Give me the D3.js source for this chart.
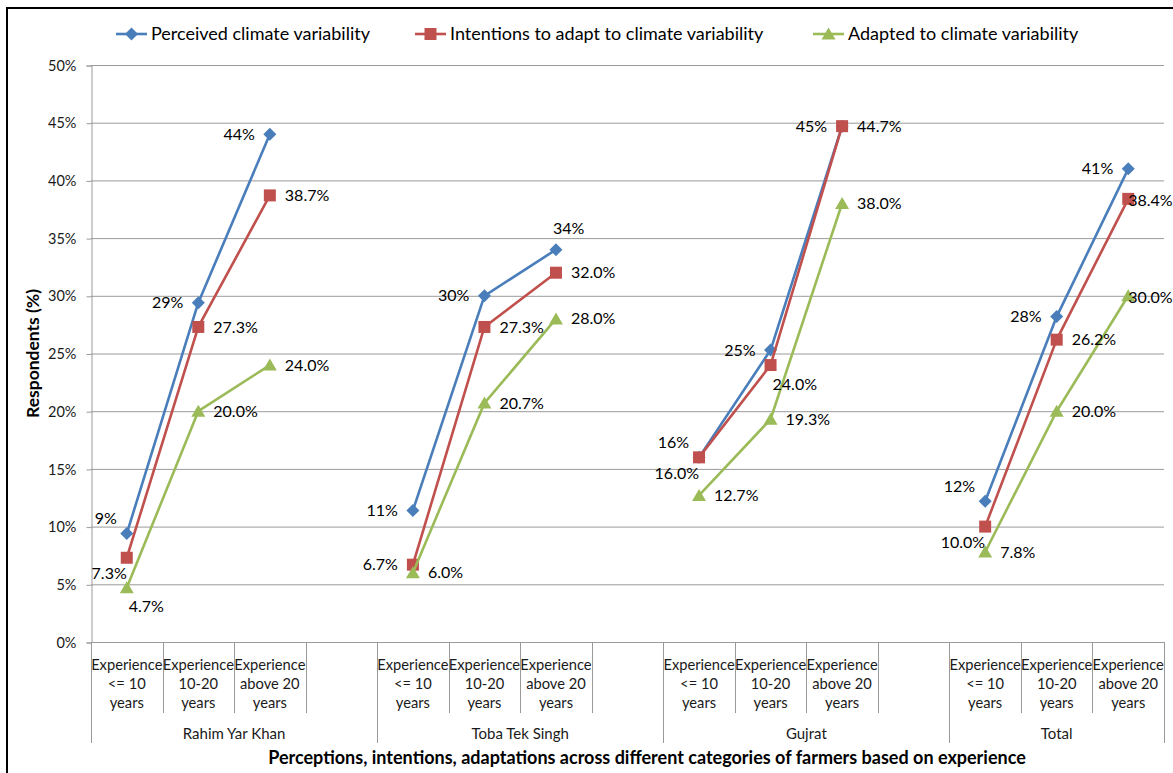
<!DOCTYPE html>
<html>
<head>
<meta charset="utf-8">
<script src="https://cdn.jsdelivr.net/npm/d3@7"></script>
<style>
  html, body { margin: 0; padding: 0; background: #fff; }
  svg { display: block; font-family: Lato, "Open Sans", sans-serif; }
</style>
</head>
<body>
<svg id="chart" width="1173" height="773"></svg>
<script>
// ---- data ---------------------------------------------------------------
const groups = ["Rahim Yar Khan", "Toba Tek Singh", "Gujrat", "Total"];
const experience = [
  ["Experience", "<= 10", "years"],
  ["Experience", "10-20", "years"],
  ["Experience", "above 20", "years"]
];
const yTicks = [0, 5, 10, 15, 20, 25, 30, 35, 40, 45, 50];

// values in percent, group by group (three experience classes each)
const perceived  = [9.4, 29.4, 44.0, 11.4, 30.0, 34.0, 16.0, 25.3, 44.7, 12.2, 28.2, 41.0];
const intentions = [7.3, 27.3, 38.7, 6.7, 27.3, 32.0, 16.0, 24.0, 44.7, 10.0, 26.2, 38.4];
const adapted    = [4.7, 20.0, 24.0, 6.0, 20.7, 28.0, 12.7, 19.3, 38.0, 7.8, 20.0, 30.0];

const seriesNames = [
  "Perceived climate variability",
  "Intentions to adapt to climate variability",
  "Adapted to climate variability"
];

// data-label placement codes per point
const perceivedPos  = ["AL", "L", "L", "L", "L", "AR", "AL", "L", "L", "AL", "L", "L"];
const intentionsPos = ["BL", "R", "R", "L", "R", "R", "BL", "BR", "R", "BL", "R", "RT"];
const adaptedPos    = ["BR", "R", "R", "R", "R", "R", "R", "R", "R", "R", "R", "RT"];

// ---- layout -------------------------------------------------------------
const svg = d3.select("#chart");
const plot = { left: 91, right: 1164, top: 65, bottom: 642 };
const textColor = "#1a1a1a";
const gridColor = "#9a9a9a";

// slots along the x axis: three classes per group, a blank slot between groups
const slots = [];
groups.forEach((g, gi) => {
  experience.forEach((e, ei) => slots.push({ id: g + "|" + ei, group: g, lines: e }));
  if (gi < groups.length - 1) slots.push({ id: g + "|gap", group: g, lines: null });
});

const x = d3.scaleBand().domain(slots.map(s => s.id)).range([plot.left, plot.right]).padding(0);
const y = d3.scaleLinear().domain([0, 50]).range([plot.bottom, plot.top]);

// outer frame
svg.append("rect")
  .attr("x", 7).attr("y", 8).attr("width", 1300).attr("height", 900)
  .attr("fill", "none").attr("stroke", "#000").attr("stroke-width", 2);

// horizontal gridlines
svg.append("g").selectAll("line").data(yTicks.filter(t => t > 0)).join("line")
  .attr("x1", plot.left).attr("x2", plot.right)
  .attr("y1", d => y(d) + 0.5).attr("y2", d => y(d) + 0.5)
  .attr("stroke", gridColor).attr("stroke-width", 1);

// y axis
const yAxis = d3.axisLeft(y).tickValues(yTicks).tickFormat(d => d + "%").tickSize(5).tickPadding(10);
const gy = svg.append("g").attr("transform", `translate(${plot.left + 0.5},0.5)`).call(yAxis);
gy.select(".domain").attr("stroke", gridColor);
gy.selectAll(".tick line").attr("stroke", gridColor);
gy.selectAll(".tick text").attr("font-size", 14.5).attr("fill", textColor).attr("font-family", "Lato");

svg.append("text")
  .attr("transform", `translate(39,${(plot.top + plot.bottom) / 2}) rotate(-90)`)
  .attr("text-anchor", "middle").attr("font-size", 17.5).attr("font-weight", "bold")
  .attr("fill", "#000").text("Respondents (%)");

// x axis line
svg.append("line")
  .attr("x1", plot.left).attr("x2", plot.right)
  .attr("y1", plot.bottom + 0.5).attr("y2", plot.bottom + 0.5)
  .attr("stroke", gridColor);

// tick separators: short between slots, long between groups
const bounds = slots.map((s, i) => ({ pos: x(s.id), long: i === 0 || (s.lines && slots[i - 1].lines === null) }));
bounds.push({ pos: plot.right, long: true });
svg.append("g").selectAll("line").data(bounds).join("line")
  .attr("x1", d => Math.round(d.pos) + 0.5).attr("x2", d => Math.round(d.pos) + 0.5)
  .attr("y1", plot.bottom).attr("y2", d => d.long ? 743 : 713)
  .attr("stroke", gridColor);

// experience class labels
const catG = svg.append("g").attr("font-size", 14.7).attr("fill", textColor).attr("text-anchor", "middle");
slots.filter(s => s.lines).forEach(s => {
  const t = catG.append("text").attr("x", x(s.id) + x.bandwidth() / 2);
  s.lines.forEach((ln, li) => t.append("tspan")
    .attr("x", x(s.id) + x.bandwidth() / 2).attr("y", 670 + li * 19).text(ln));
});

// group labels
svg.append("g").selectAll("text").data(groups).join("text")
  .attr("x", g => {
    const gs = slots.filter(s => s.group === g);
    return (x(gs[0].id) + x(gs[gs.length - 1].id) + x.bandwidth()) / 2;
  })
  .attr("y", 739).attr("text-anchor", "middle").attr("font-size", 15).attr("fill", textColor)
  .text(g => g);

// x axis title
svg.append("text")
  .attr("x", 647).attr("y", 764).attr("text-anchor", "middle")
  .attr("font-size", 18).attr("font-weight", "bold").attr("fill", "#000")
  .text("Perceptions, intentions, adaptations across different categories of farmers based on experience");

// ---- series -------------------------------------------------------------
const markers = {
  diamond: "M0,-6.5L6.5,0L0,6.5L-6.5,0Z",
  square: "M-6,-6H6V6H-6Z",
  triangle: "M0,-6.5L7,5.5H-7Z"
};
const series = [
  { name: seriesNames[0], values: perceived,  pos: perceivedPos,  color: "#4A7EBB", marker: markers.diamond,  fmt: d3.format(".0%") },
  { name: seriesNames[1], values: intentions, pos: intentionsPos, color: "#C0504D", marker: markers.square,   fmt: d3.format(".1%") },
  { name: seriesNames[2], values: adapted,    pos: adaptedPos,    color: "#9BBB59", marker: markers.triangle, fmt: d3.format(".1%") }
];

const slotOf = k => groups[Math.floor(k / 3)] + "|" + (k % 3);
const cx = k => x(slotOf(k)) + x.bandwidth() / 2;

const line = d3.line().x(d => cx(d.k)).y(d => y(d.v));

series.forEach(s => {
  const pts = s.values.map((v, k) => ({ v, k }));
  const g = svg.append("g");
  // one polyline per group; the blank slots break the line
  groups.forEach((_, gi) => {
    g.append("path").datum(pts.slice(gi * 3, gi * 3 + 3))
      .attr("d", line).attr("fill", "none")
      .attr("stroke", s.color).attr("stroke-width", 2.6).attr("stroke-linejoin", "round");
  });
  g.selectAll(".mk").data(pts).join("path").attr("class", "mk")
    .attr("transform", d => `translate(${cx(d.k)},${y(d.v)})`)
    .attr("d", s.marker).attr("fill", s.color);
});

// data labels
const place = {
  R:  { dx: 15,  dy: 0,   anchor: "start" },
  L:  { dx: -15, dy: 0,   anchor: "end" },
  AL: { dx: -10, dy: -15, anchor: "end" },
  AR: { dx: -3,  dy: -21, anchor: "start" },
  BL: { dx: 0,   dy: 16,  anchor: "end" },
  BR: { dx: 2,   dy: 19,  anchor: "start" },
  RT: { dx: 0,   dy: 2,   anchor: "start" }
};
const labelG = svg.append("g").attr("font-size", 16).attr("fill", "#000");
series.forEach(s => {
  s.values.forEach((v, k) => {
    const p = place[s.pos[k]];
    labelG.append("text")
      .attr("x", cx(k) + p.dx).attr("y", y(v) + p.dy)
      .attr("dy", "0.35em").attr("text-anchor", p.anchor)
      .text(s.fmt(v / 100));
  });
});

// ---- legend -------------------------------------------------------------
const legendItems = [
  { s: series[0], x0: 116 },
  { s: series[1], x0: 415 },
  { s: series[2], x0: 813 }
];
const lg = svg.append("g");
legendItems.forEach(it => {
  const yy = 34;
  lg.append("line").attr("x1", it.x0).attr("x2", it.x0 + 31).attr("y1", yy).attr("y2", yy)
    .attr("stroke", it.s.color).attr("stroke-width", 2.6);
  lg.append("path").attr("transform", `translate(${it.x0 + 15.5},${yy})`)
    .attr("d", it.s.marker).attr("fill", it.s.color);
  lg.append("text").attr("x", it.x0 + 35).attr("y", yy).attr("dy", "0.35em")
    .attr("font-size", 18).attr("fill", "#000").text(it.s.name);
});
</script>
</body>
</html>
